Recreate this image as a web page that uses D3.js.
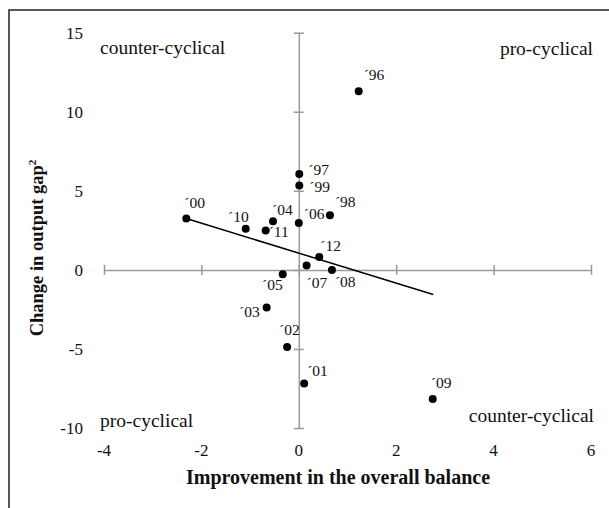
<!DOCTYPE html>
<html>
<head>
<meta charset="utf-8">
<script src="https://cdn.jsdelivr.net/npm/d3@7"></script>
<style>
  body { margin: 0; background: #fff; }
  svg { display: block; }
  text { font-family: "Liberation Serif", "Times New Roman", serif; fill: #111; }
</style>
</head>
<body>
<div id="chart"></div>
<script>
// data
var years   = ["96","97","98","99","00","01","02","03","04","05","06","07","08","09","10","11","12"];
var balance = [1.23, 0.01, 0.64, 0.01, -2.31, 0.11, -0.24, -0.66, -0.53, -0.33, 0.00, 0.16, 0.68, 2.75, -1.09, -0.68, 0.42];
var gap     = [11.3, 6.06, 3.46, 5.34, 3.25, -7.19, -4.87, -2.38, 3.08, -0.27, 2.97, 0.28, 0.00, -8.16, 2.60, 2.49, 0.82];
var trendX  = [-2.31, 2.76];
var trendY  = [3.25, -1.56];
var xTicks  = [-4, -2, 0, 2, 4, 6];
var yTicks  = [-10, -5, 0, 5, 10, 15];

// where each year label sits next to its dot: [dx, dy, anchor]
var labelPos = {
  "96": [5, -11, "start"], "97": [9, 1, "start"], "98": [5, -8, "start"], "99": [10, 7, "start"],
  "00": [-2, -10, "start"], "01": [3, -8, "start"], "02": [-8, -12, "start"], "03": [-7, 9, "end"],
  "04": [-1, -6, "start"], "05": [0, 16, "end"], "06": [5, -4, "start"], "07": [0, 23, "start"],
  "08": [3, 17, "start"], "09": [-2, -11, "start"], "10": [3, -7, "end"], "11": [3, 6, "start"],
  "12": [1, -6, "start"]
};

var width = 609, height = 508;
var svg = d3.select("#chart").append("svg")
  .attr("width", width)
  .attr("height", height);

// frame (only top and left edges fall inside the picture)
svg.append("rect")
  .attr("x", 9).attr("y", 10)
  .attr("width", 640).attr("height", 540)
  .attr("fill", "none")
  .attr("stroke", "#222")
  .attr("stroke-width", 1.5);

var x = d3.scaleLinear().domain([-4, 6]).range([104, 591]);
var y = d3.scaleLinear().domain([-10, 15]).range([428, 32.7]);

var axisColor = "#9a9a9a";

// horizontal axis through y = 0
var xAxis = svg.append("g")
  .attr("transform", "translate(0," + y(0) + ")")
  .call(d3.axisBottom(x).tickValues(xTicks).tickSizeOuter(0).tickSizeInner(10).tickFormat(""));
xAxis.selectAll("line").attr("transform", "translate(0,-5)");

// vertical axis through x = 0
var yAxis = svg.append("g")
  .attr("transform", "translate(" + x(0) + ",0)")
  .call(d3.axisLeft(y).tickValues(yTicks).tickSizeOuter(0).tickSizeInner(10).tickFormat(""));
yAxis.selectAll("line").attr("transform", "translate(5,0)");

svg.selectAll(".domain, .tick line")
  .attr("stroke", axisColor)
  .attr("stroke-width", 1.5);

// tick labels sit at the low end of each axis
svg.append("g").selectAll("text")
  .data(yTicks)
  .enter().append("text")
    .attr("x", 83)
    .attr("y", function (d) { return y(d) + 6; })
    .attr("text-anchor", "end")
    .style("font-size", "17px")
    .text(function (d) { return d; });

svg.append("g").selectAll("text")
  .data(xTicks)
  .enter().append("text")
    .attr("x", function (d) { return x(d); })
    .attr("y", 456)
    .attr("text-anchor", "middle")
    .style("font-size", "17px")
    .text(function (d) { return d; });

// trend line
svg.append("line")
  .attr("x1", x(trendX[0])).attr("y1", y(trendY[0]))
  .attr("x2", x(trendX[1])).attr("y2", y(trendY[1]))
  .attr("stroke", "#000")
  .attr("stroke-width", 1.5);

// dots
var pts = years.map(function (yr, i) { return { year: yr, bx: balance[i], gy: gap[i] }; });

svg.append("g").selectAll("circle")
  .data(pts)
  .enter().append("circle")
    .attr("cx", function (d) { return x(d.bx); })
    .attr("cy", function (d) { return y(d.gy); })
    .attr("r", 4)
    .attr("fill", "#000");

svg.append("g").selectAll("text")
  .data(pts)
  .enter().append("text")
    .attr("x", function (d) { return x(d.bx) + labelPos[d.year][0]; })
    .attr("y", function (d) { return y(d.gy) + labelPos[d.year][1]; })
    .attr("text-anchor", function (d) { return labelPos[d.year][2]; })
    .style("font-size", "15.5px")
    .text(function (d) { return "\u00b4" + d.year; });

// quadrant captions
var quad = svg.append("g").style("font-size", "19.5px");
quad.append("text").attr("x", 100).attr("y", 54).text("counter-cyclical");
quad.append("text").attr("x", 593).attr("y", 55).attr("text-anchor", "end").text("pro-cyclical");
quad.append("text").attr("x", 100).attr("y", 427).text("pro-cyclical");
quad.append("text").attr("x", 594).attr("y", 422).attr("text-anchor", "end").text("counter-cyclical");

// axis titles
svg.append("text")
  .attr("x", 338).attr("y", 484)
  .attr("text-anchor", "middle")
  .style("font-size", "20px")
  .style("font-weight", "bold")
  .text("Improvement in the overall balance");

var yTitle = svg.append("text")
  .attr("transform", "translate(43,248) rotate(-90)")
  .attr("text-anchor", "middle")
  .style("font-size", "18.5px")
  .style("font-weight", "bold");
yTitle.append("tspan").text("Change in output gap");
yTitle.append("tspan").attr("dy", -7).style("font-size", "11px").text("2");
</script>
</body>
</html>
